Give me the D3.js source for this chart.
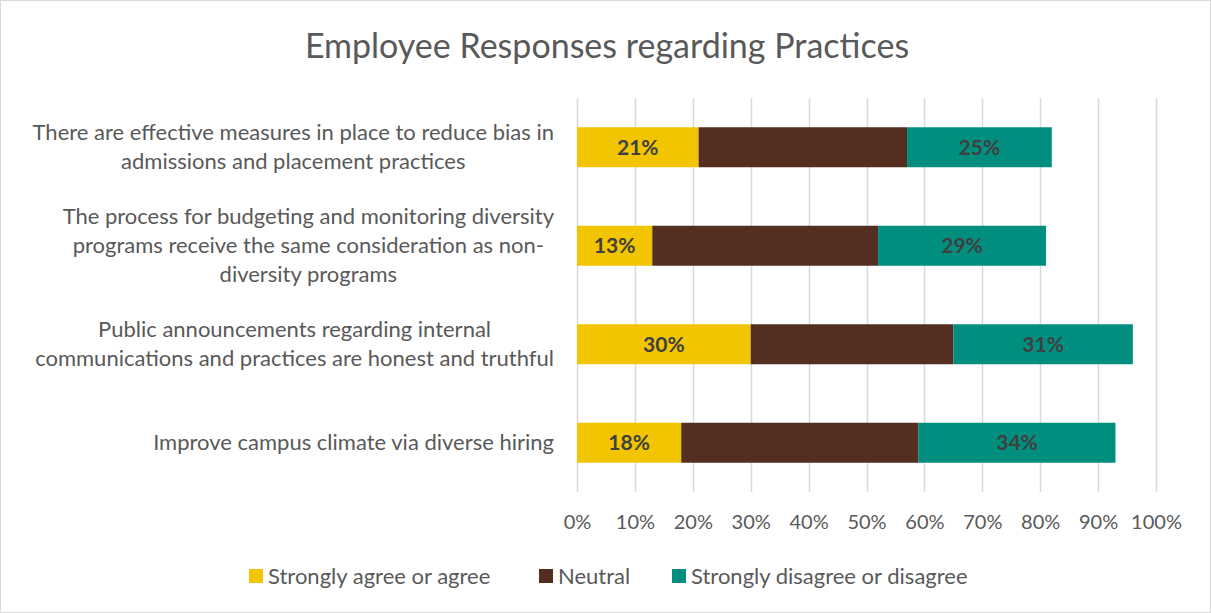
<!DOCTYPE html>
<html>
<head>
<meta charset="utf-8">
<script src="https://cdn.jsdelivr.net/npm/d3@7"></script>
<style>
  html, body { margin: 0; padding: 0; background: #fff; }
  svg { display: block; }
  text { font-family: Lato, "Open Sans", sans-serif; }
</style>
</head>
<body>
<svg id="chart" width="1211" height="613"></svg>
<script>
// Survey statements (top to bottom) and their wrapped label lines
const categories = [
  "There are effective measures in place to reduce bias in admissions and placement practices",
  "The process for budgeting and monitoring diversity programs receive the same consideration as non-diversity programs",
  "Public announcements regarding internal communications and practices are honest and truthful",
  "Improve campus climate via diverse hiring"
];
const categoryLines = [
  ["There are effective measures in place to reduce bias in", "admissions and placement practices"],
  ["The process for budgeting and monitoring diversity", "programs receive the same consideration as non-", "diversity programs"],
  ["Public announcements regarding internal", "communications and practices are honest and truthful"],
  ["Improve campus climate via diverse hiring"]
];

// Share of responses (percent)
const agree    = [21, 13, 30, 18];
const neutral  = [36, 39, 35, 41];
const disagree = [25, 29, 31, 34];

const seriesNames  = ["Strongly agree or agree", "Neutral", "Strongly disagree or disagree"];
const seriesColors = ["#F2C500", "#532E21", "#008F7E"];
const tickValues   = [0, 10, 20, 30, 40, 50, 60, 70, 80, 90, 100];

const svg = d3.select("#chart");
const W = 1211, H = 613;
const textColor = "#595959";

// chart frame
svg.append("rect")
  .attr("x", 0.5).attr("y", 0.5)
  .attr("width", W - 1).attr("height", H - 1)
  .attr("fill", "#fff").attr("stroke", "#d9d9d9");

// title
svg.append("text")
  .attr("x", 607).attr("y", 58)
  .attr("text-anchor", "middle")
  .attr("fill", textColor)
  .attr("font-size", 34)
  .text("Employee Responses regarding Practices");

const plot = { left: 577, right: 1156, top: 98, bottom: 492 };

const x = d3.scaleLinear().domain([0, 100]).range([plot.left, plot.right]);
const y = d3.scaleBand()
  .domain(categories)
  .range([plot.top, plot.bottom])
  .paddingInner(0.594)
  .paddingOuter(0.297);

// vertical gridlines
svg.append("g")
  .selectAll("line")
  .data(tickValues)
  .join("line")
  .attr("x1", d => Math.round(x(d)) + 0.5)
  .attr("x2", d => Math.round(x(d)) + 0.5)
  .attr("y1", plot.top).attr("y2", plot.bottom)
  .attr("stroke", "#d9d9d9").attr("stroke-width", 1.5);

// bottom axis labels
const xAxis = d3.axisBottom(x)
  .tickValues(tickValues)
  .tickFormat(d => d + "%")
  .tickSize(0)
  .tickPadding(0);
const gx = svg.append("g")
  .attr("transform", `translate(0,${plot.bottom + 37})`)
  .call(xAxis);
gx.select(".domain").remove();
gx.selectAll("text")
  .attr("fill", textColor)
  .attr("font-size", 20)
  .attr("font-family", "Lato, 'Open Sans', sans-serif")
  .attr("dy", 0);

// stacked data
const rows = categories.map((c, i) => ({
  category: c, agree: agree[i], neutral: neutral[i], disagree: disagree[i]
}));
const keys = ["agree", "neutral", "disagree"];
const stacked = d3.stack().keys(keys)(rows);

const layers = svg.append("g")
  .selectAll("g")
  .data(stacked)
  .join("g")
  .attr("fill", (d, i) => seriesColors[i]);

layers.selectAll("rect")
  .data(d => d)
  .join("rect")
  .attr("x", d => x(d[0]))
  .attr("y", d => y(d.data.category))
  .attr("width", d => x(d[1]) - x(d[0]))
  .attr("height", y.bandwidth());

// value labels on the agree and disagree segments
[0, 2].forEach(si => {
  svg.append("g")
    .selectAll("text")
    .data(stacked[si])
    .join("text")
    .attr("x", d => (x(d[0]) + x(d[1])) / 2)
    .attr("y", d => y(d.data.category) + y.bandwidth() / 2)
    .attr("dy", "0.36em")
    .attr("text-anchor", "middle")
    .attr("font-size", 21)
    .attr("font-weight", "bold")
    .attr("fill", "#404040")
    .text(d => (d[1] - d[0]) + "%");
});

// category labels, centred lines in a block right-aligned against the plot
const labelRight = 554;
const lineH = 29;
const labelGroups = svg.append("g")
  .selectAll("g")
  .data(categories)
  .join("g");
labelGroups.each(function (c, i) {
  const g = d3.select(this);
  const lines = categoryLines[i];
  const cy = y(c) + y.bandwidth() / 2;
  const t = g.selectAll("text")
    .data(lines)
    .join("text")
    .attr("fill", textColor)
    .attr("font-size", 22)
    .attr("text-anchor", "middle")
    .attr("dy", "0.35em")
    .attr("y", (d, k) => cy + (k - (lines.length - 1) / 2) * lineH)
    .text(d => d);
  let maxW = 0;
  t.each(function () { maxW = Math.max(maxW, this.getComputedTextLength()); });
  t.attr("x", labelRight - maxW / 2);
});

// legend
const legendItems = [
  { name: seriesNames[0], color: seriesColors[0], x: 249 },
  { name: seriesNames[1], color: seriesColors[1], x: 539 },
  { name: seriesNames[2], color: seriesColors[2], x: 672 }
];
const lg = svg.append("g")
  .selectAll("g")
  .data(legendItems)
  .join("g")
  .attr("transform", d => `translate(${d.x},576)`);
lg.append("rect")
  .attr("x", 0).attr("y", -7)
  .attr("width", 14).attr("height", 14)
  .attr("fill", d => d.color);
lg.append("text")
  .attr("x", 19).attr("dy", "0.35em")
  .attr("fill", textColor)
  .attr("font-size", 22)
  .text(d => d.name);
</script>
</body>
</html>
